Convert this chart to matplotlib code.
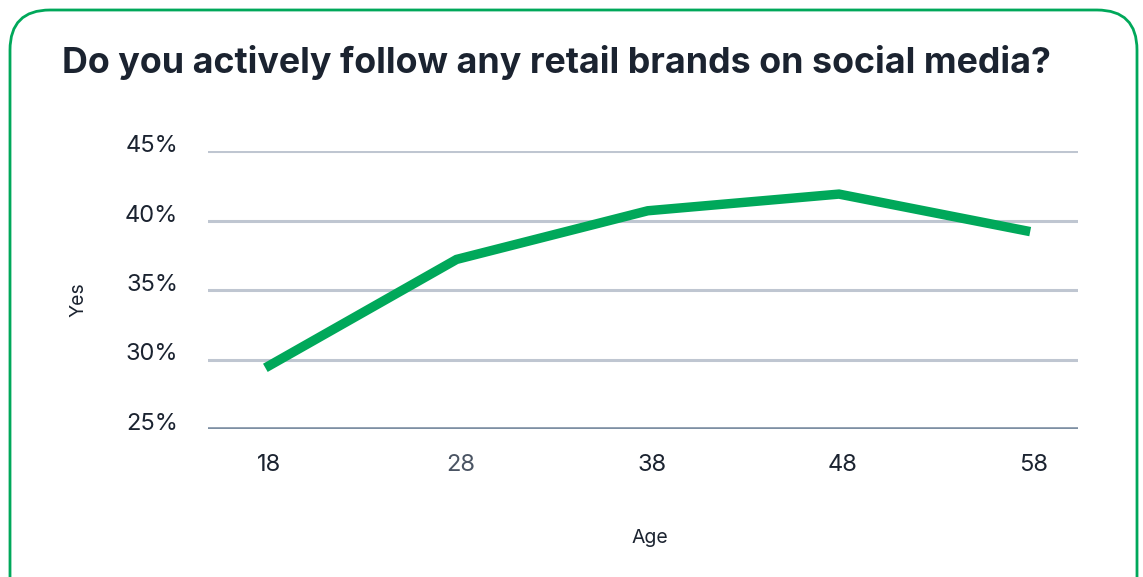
import matplotlib.pyplot as plt
from matplotlib.patches import FancyBboxPatch

plt.rcParams['font.family'] = ['Inter', 'DejaVu Sans']

# Share answering "Yes" by age
ages = [18, 28, 38, 48, 58]
yes_share = [29.4, 37.2, 40.7, 41.9, 39.2]
y_ticks = [25, 30, 35, 40, 45]
y_tick_labels = ['25%', '30%', '35%', '40%', '45%']

green = '#00a85a'
text_col = '#1b2330'

fig = plt.figure(figsize=(11.43, 5.77), dpi=100)

# rounded card outline, running off the bottom edge
card = FancyBboxPatch((10 / 1143, -0.2), 1127 / 1143, 1.2 - 10 / 577,
                      boxstyle='round,pad=0,rounding_size=0.035',
                      transform=fig.transFigure, fill=False,
                      edgecolor=green, linewidth=2, mutation_aspect=1143 / 577)
fig.patches.append(card)

fig.text(62 / 1143, 1 - 62 / 577, 'Do you actively follow any retail brands on social media?',
         fontsize=25.8, fontweight='bold', color=text_col, va='center', ha='left')

ax = fig.add_axes([208 / 1143, 1 - 429 / 577, 870 / 1143, 278 / 577])
ax.set_xlim(15, 60.5)
ax.set_ylim(25, 45)

for v in y_ticks[1:]:
    ax.axhline(v, color='#bfc6d1', linewidth=2.2, zorder=1)
ax.axhline(25, color='#7d8fa3', linewidth=2.6, zorder=1)

ax.plot(ages, yes_share, color=green, linewidth=6.8, solid_capstyle='butt',
        solid_joinstyle='miter', zorder=3, clip_on=False)

for s in ax.spines.values():
    s.set_visible(False)
ax.set_xticks([])
ax.set_yticks([])

# tick labels sit a little above their gridlines
for v, lab in zip(y_ticks, y_tick_labels):
    ax.annotate(lab, (0, v), xycoords=('axes fraction', 'data'),
                xytext=(-30, 5), textcoords='offset pixels',
                ha='right', va='center', fontsize=17, color=text_col)

for a in ages:
    col = '#4a5463' if a == 28 else text_col
    ax.annotate(str(a), (a + 0.2, 25), xycoords='data',
                xytext=(0, -36), textcoords='offset pixels',
                ha='center', va='center', fontsize=17, color=col)

fig.text(78 / 1143, 1 - 300 / 577, 'Yes', rotation=90, fontsize=14,
         color=text_col, ha='center', va='center')
fig.text(650 / 1143, 1 - 538 / 577, 'Age', fontsize=14,
         color=text_col, ha='center', va='center')

fig.savefig('out.png', dpi=100)
